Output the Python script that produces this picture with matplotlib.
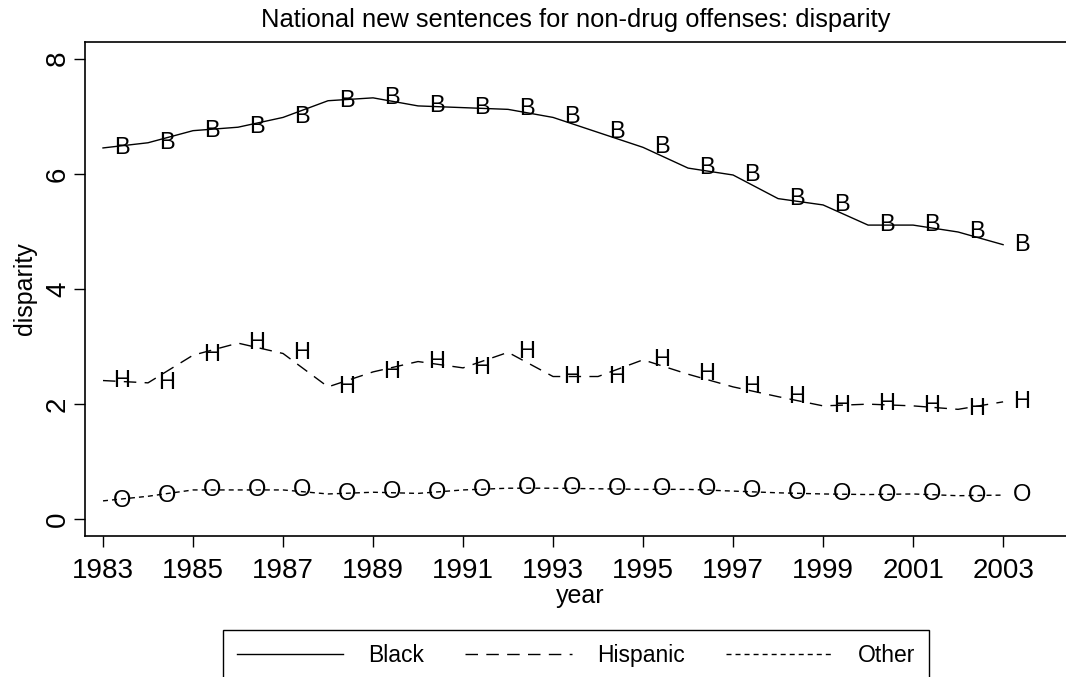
import numpy as np
import matplotlib.pyplot as plt
from matplotlib.lines import Line2D

plt.rcParams['font.family'] = ['Liberation Sans', 'DejaVu Sans']

years = list(range(1983, 2004))
black = [6.45, 6.54, 6.75, 6.81, 6.98, 7.27, 7.32, 7.18, 7.15, 7.12, 6.98,
         6.72, 6.46, 6.10, 5.98, 5.57, 5.46, 5.11, 5.11, 4.99, 4.77]
hispanic = [2.41, 2.37, 2.85, 3.06, 2.88, 2.30, 2.56, 2.74, 2.63, 2.90, 2.48,
            2.48, 2.77, 2.52, 2.30, 2.13, 1.97, 2.00, 1.97, 1.91, 2.04]
other = [0.32, 0.40, 0.51, 0.51, 0.51, 0.44, 0.47, 0.45, 0.51, 0.54, 0.54,
         0.53, 0.52, 0.52, 0.49, 0.46, 0.44, 0.43, 0.44, 0.41, 0.42]
series = [('Black', 'B', black, '-'),
          ('Hispanic', 'H', hispanic, (0, (9, 6))),
          ('Other', 'O', other, (0, (3.6, 2.9)))]

fig = plt.figure(figsize=(10.66, 6.77), dpi=100)
ax = fig.add_axes([85/1066, 1-536/677, 991/1066, 494/677])

handles = []
for name, letter, vals, ls in series:
    ln, = ax.plot(years, vals, color='black', lw=1.0, linestyle=ls, label=name)
    handles.append(ln)
    for x, y in zip(years, vals):
        ax.annotate(letter, (x, y), xytext=(13.7, 0), textcoords='offset points',
                    ha='center', va='center', fontsize=17)

ax.set_xlim(1982.6, 2004.62)
ax.set_ylim(-0.29, 8.29)
ax.set_xticks(range(1983, 2004, 2))
ax.set_yticks([0, 2, 4, 6, 8])
ax.tick_params(direction='out', length=8, width=1, labelsize=20, color='black')
ax.tick_params(axis='x', pad=8)
ax.tick_params(axis='y', pad=2)
for lab in ax.get_yticklabels():
    lab.set_rotation(90)
    lab.set_va('center')
for s in ax.spines.values():
    s.set_linewidth(1.2)
ax.spines['right'].set_visible(False)

ax.set_xlabel('year', fontsize=18, labelpad=0)
ax.set_ylabel('disparity', fontsize=18, labelpad=6)
fig.text(576/1066, 1-20/677, 'National new sentences for non-drug offenses: disparity',
         ha='center', va='center', fontsize=18.4)

leg = fig.legend(handles=handles, loc='upper center', bbox_to_anchor=(576/1066, 1-630/677),
                 ncol=3, fontsize=16.5, handlelength=4.65, handletextpad=1.1,
                 columnspacing=1.8, borderpad=0.6, borderaxespad=0, fancybox=False,
                 frameon=True, edgecolor='black', framealpha=1)
leg.get_frame().set_linewidth(1.0)

fig.savefig('out.png', dpi=100)
